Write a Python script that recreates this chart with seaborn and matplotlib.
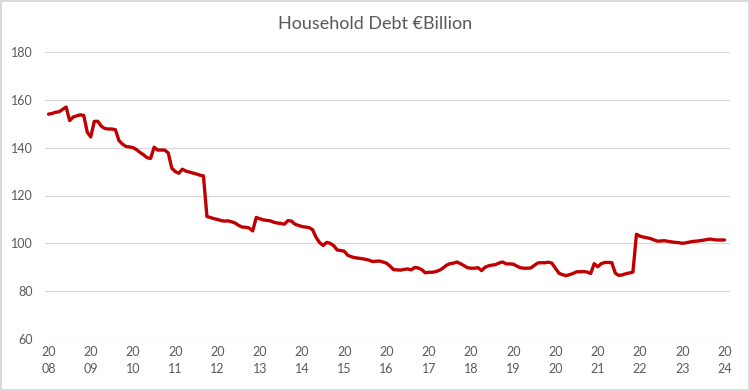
import numpy as np
import pandas as pd
import matplotlib
matplotlib.use("Agg")
import matplotlib.pyplot as plt
import seaborn as sns

# === Datos: deuda de los hogares, mensual ene-2008 a ene-2024 (EUR mil millones) ===
debt = [
    # 2008
    154.0, 154.3, 154.8, 155.0, 156.0, 157.0, 151.3, 152.8, 153.3, 153.7, 153.5, 146.5,
    # 2009
    144.5, 151.0, 151.0, 149.0, 148.0, 147.8, 147.8, 147.5, 143.0, 141.5, 140.5, 140.3,
    # 2010
    140.0, 139.2, 138.0, 137.0, 135.8, 135.5, 140.2, 139.0, 139.0, 139.0, 137.8, 131.5,
    # 2011
    130.0, 129.3, 131.0, 130.2, 129.8, 129.4, 129.0, 128.5, 128.2, 111.2, 110.8, 110.3,
    # 2012
    110.0, 109.5, 109.3, 109.4, 109.0, 108.5, 107.5, 106.8, 106.7, 106.4, 105.2, 110.8,
    # 2013
    110.3, 109.8, 109.6, 109.4, 108.8, 108.5, 108.3, 108.0, 109.5, 109.3, 108.0, 107.5,
    # 2014
    107.0, 106.8, 106.6, 105.7, 102.5, 100.3, 99.1, 100.4, 100.0, 99.0, 97.2, 97.0,
    # 2015
    96.7, 95.0, 94.4, 94.0, 93.8, 93.6, 93.3, 93.0, 92.4, 92.5, 92.6, 92.2,
    # 2016
    91.7, 90.5, 89.0, 88.9, 88.8, 89.1, 89.3, 88.9, 89.9, 89.7, 89.0, 87.7,
    # 2017
    87.9, 87.9, 88.2, 88.7, 89.6, 90.8, 91.5, 91.7, 92.2, 91.5, 90.7, 89.8,
    # 2018
    89.6, 89.6, 89.8, 88.6, 90.0, 90.6, 90.9, 91.1, 91.8, 92.2, 91.4, 91.4,
    # 2019
    91.3, 90.5, 89.8, 89.6, 89.6, 89.7, 90.8, 91.8, 91.9, 91.9, 92.1, 91.7,
    # 2020
    89.5, 87.5, 86.9, 86.5, 86.9, 87.4, 88.1, 88.1, 88.2, 88.0, 87.4, 91.5,
    # 2021
    90.2, 91.5, 92.0, 92.0, 91.9, 87.5, 86.6, 86.8, 87.3, 87.6, 88.0, 103.8,
    # 2022
    103.0, 102.6, 102.3, 102.0, 101.4, 100.9, 101.0, 101.1, 100.8, 100.6, 100.4, 100.3,
    # 2023
    100.0, 100.2, 100.5, 100.8, 100.9, 101.1, 101.3, 101.6, 101.8, 101.5, 101.4, 101.4,
    # 2024
    101.4,
]
years = list(range(2008, 2025))
year_labels = [f"{str(y)[:2]}\n{str(y)[2:]}" for y in years]

df = pd.DataFrame({"mes": range(len(debt)), "deuda": debt})

# === Estilo ===
sns.set_style("white")
plt.rcParams["font.family"] = ["Lato", "DejaVu Sans"]

grey = "#595959"
fig = plt.figure(figsize=(7.5, 3.91), dpi=100)
fig.patch.set_edgecolor("#D9D9D9")
fig.patch.set_linewidth(1.5)
ax = fig.add_axes([0.06, 0.133, 0.913, 0.734])

sns.lineplot(data=df, x="mes", y="deuda", color="#C00000", linewidth=2.4, ax=ax)

ax.set_xlim(-1, len(debt) + 0.5)
ax.set_ylim(60, 180)
ax.set_yticks(range(60, 181, 20))
ax.set_xticks([12 * i for i in range(len(years))])
ax.set_xticklabels(year_labels, linespacing=1.5)
ax.grid(axis="y", color="#D9D9D9", linewidth=0.9)
ax.grid(axis="x", visible=False)
for s in ax.spines.values():
    s.set_visible(False)
ax.tick_params(axis="both", length=0, labelsize=9, colors=grey)
ax.tick_params(axis="x", pad=5)
ax.tick_params(axis="y", pad=9)
ax.set_xlabel("")
ax.set_ylabel("")

fig.suptitle("Household Debt €Billion", y=0.96, fontsize=13, color=grey,
             fontweight="normal")

fig.savefig("out.png", dpi=100, edgecolor=fig.get_edgecolor())
